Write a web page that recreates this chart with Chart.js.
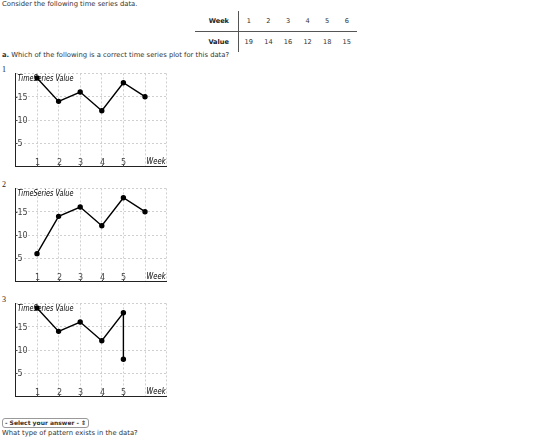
<!DOCTYPE html>
<html>
<head>
<meta charset="utf-8">
<script src="https://cdn.jsdelivr.net/npm/chart.js@4"></script>
<style>
  body { margin:0; width:560px; height:439px; background:#fff; position:relative; overflow:hidden;
         font-family:"DejaVu Sans", Verdana, sans-serif; color:#333; font-size:6.8px; }
  .abs { position:absolute; white-space:nowrap; }
  .num { font-family:"Liberation Serif", serif; font-size:8px; color:#222; }
  table { border-collapse:collapse; font-size:6.6px; }
  td { padding:0; height:20px; text-align:center; width:19.6px; }
  td.h { font-weight:bold; text-align:right; padding-right:9px; width:34px; color:#222; border-right:1px solid #555; }
  tr.top td { border-bottom:1px solid #555; }
  .sel { border:1px solid #999; border-radius:3px; font-weight:bold; font-size:6px; padding:0 2px; height:8px; line-height:8px; }
  canvas { position:absolute; }
</style>
</head>
<body>
<div class="abs" style="left:2px;top:0px;">Consider the following time series data.</div>

<table class="abs" style="left:195px;top:11px;">
  <tr class="top"><td class="h">Week</td><td>1</td><td>2</td><td>3</td><td>4</td><td>5</td><td>6</td></tr>
  <tr><td class="h">Value</td><td>19</td><td>14</td><td>16</td><td>12</td><td>18</td><td>15</td></tr>
</table>

<div class="abs" style="left:2px;top:51px;"><b>a.</b> Which of the following is a correct time series plot for this data?</div>

<div class="abs num" style="left:2px;top:65px;">1</div>
<div class="abs num" style="left:2px;top:180px;">2</div>
<div class="abs num" style="left:2px;top:295px;">3</div>

<canvas id="c1" width="162" height="104" style="left:10px;top:68px;"></canvas>
<canvas id="c2" width="162" height="104" style="left:10px;top:183px;"></canvas>
<canvas id="c3" width="162" height="104" style="left:10px;top:298px;"></canvas>

<div class="abs sel" style="left:2px;top:418px;">- Select your answer - &#8661;</div>
<div class="abs" style="left:2px;top:429px;">What type of pattern exists in the data?</div>

<script>
// table data
const weeks  = [1, 2, 3, 4, 5, 6];
const values = [19, 14, 16, 12, 18, 15];

// the three candidate plots
const plot1X = [1, 2, 3, 4, 5, 6];
const plot1Y = [19, 14, 16, 12, 18, 15];
const plot2X = [1, 2, 3, 4, 5, 6];
const plot2Y = [6, 14, 16, 12, 18, 15];
const plot3X = [1, 2, 3, 4, 5, 5];
const plot3Y = [19, 14, 16, 12, 18, 8];

// axis ticks / labels
const xTicks = [1, 2, 3, 4, 5];
const yTicks = [5, 10, 15];
const yTitle = 'TimeSeries Value';
const xTitle = 'Week';

// tick labels + titles drawn inside the plot
const insideLabels = {
  id: 'insideLabels',
  afterDraw(chart) {
    const {ctx, chartArea: a, scales: {x, y}} = chart;
    ctx.save();
    ctx.fillStyle = '#444';
    ctx.strokeStyle = '#444';
    ctx.lineWidth = 1;
    ctx.font = '8px "DejaVu Sans", sans-serif';
    ctx.textAlign = 'left';
    ctx.textBaseline = 'middle';
    yTicks.forEach(v => {
      const py = Math.round(y.getPixelForValue(v)) + 0.5;
      ctx.beginPath(); ctx.moveTo(a.left, py); ctx.lineTo(a.left + 2, py); ctx.stroke();
      ctx.fillText(String(v), a.left + 2, py);
    });
    ctx.textAlign = 'center';
    ctx.textBaseline = 'bottom';
    xTicks.forEach(v => {
      const px = Math.round(x.getPixelForValue(v)) + 0.5;
      ctx.beginPath(); ctx.moveTo(px, a.bottom); ctx.lineTo(px, a.bottom - 2); ctx.stroke();
      ctx.fillText(String(v), px, a.bottom);
    });
    ctx.font = 'italic 9px "DejaVu Sans", sans-serif';
    ctx.fillStyle = '#000';
    ctx.textAlign = 'left';
    ctx.textBaseline = 'top';
    ctx.fillText(yTitle, a.left + 2, a.top + 1, 56);
    ctx.textAlign = 'right';
    ctx.textBaseline = 'bottom';
    ctx.fillText(xTitle, a.right - 1, a.bottom, 19);
    ctx.restore();
  }
};

function makePlot(id, xs, ys) {
  const pts = xs.map((v, i) => ({x: v, y: ys[i]}));
  return new Chart(document.getElementById(id), {
    type: 'scatter',
    data: { datasets: [{
      data: pts, showLine: true,
      borderColor: '#000', borderWidth: 1.4,
      pointBackgroundColor: '#000', pointBorderColor: '#000', pointRadius: 2
    }]},
    options: {
      responsive: false, animation: false,
      layout: { padding: 2 },
      plugins: { legend: {display: false}, tooltip: {enabled: false} },
      scales: {
        x: { type: 'linear', min: 0, max: 7,
             ticks: { display: false, stepSize: 1 },
             grid: { color: '#cfcfcf', drawTicks: false },
             border: { color: '#222', width: 1, dash: [2, 2] } },
        y: { type: 'linear', min: 0, max: 20,
             ticks: { display: false, stepSize: 5 },
             grid: { color: '#cfcfcf', drawTicks: false },
             border: { color: '#222', width: 1, dash: [2, 2] } }
      }
    },
    plugins: [insideLabels]
  });
}

makePlot('c1', plot1X, plot1Y);
makePlot('c2', plot2X, plot2Y);
makePlot('c3', plot3X, plot3Y);
</script>
</body>
</html>
